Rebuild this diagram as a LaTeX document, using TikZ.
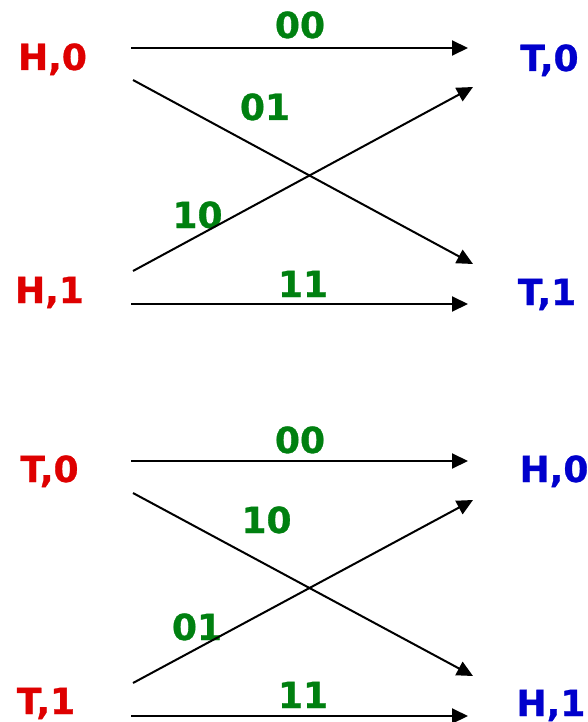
\documentclass[tikz,border=0pt]{standalone}
\usepackage{fontspec}
\setmainfont{DejaVu Sans}[BoldFeatures={FakeBold=0.8}]
\usetikzlibrary{arrows.meta}
\definecolor{sred}{RGB}{222,0,0}
\definecolor{sblue}{RGB}{0,0,204}
\definecolor{lgreen}{RGB}{0,128,16}
\tikzset{
  lbl/.style={anchor=base,inner sep=0pt,font=\bfseries\fontsize{36}{43}\selectfont},
  src/.style={lbl,text=sred},
  dst/.style={lbl,text=sblue},
  bit/.style={lbl,text=lgreen},
  arr/.style={line width=2pt,-{Triangle[length=16pt,width=15pt]}}
}
\begin{document}
\begin{tikzpicture}[x=1pt,y=-1pt]
\useasboundingbox (0,0) rectangle (587,722);
% ---- top diagram ----
\node[src] (h0) at (52.5,70) {H,0};
\node[src] (h1) at (49.5,303) {H,1};
\node[dst] (t0) at (549.5,71) {T,0};
\node[dst] (t1) at (547,305) {T,1};
\node[bit] (l00a) at (300,38) {00};
\node[bit] (l01a) at (265,120) {01};
\node[bit] (l10a) at (197.5,228) {10};
\node[bit] (l11a) at (303,297) {11};
\coordinate (a1s) at (131,48);  \coordinate (a1e) at (468,48);
\coordinate (a2s) at (133,80);  \coordinate (a2e) at (473,264);
\coordinate (a3s) at (133,271); \coordinate (a3e) at (473,87);
\coordinate (a4s) at (131,304); \coordinate (a4e) at (468,304);
\draw[arr] (a1s) -- (a1e);
\draw[arr] (a2s) -- (a2e);
\draw[arr] (a3s) -- (a3e);
\draw[arr] (a4s) -- (a4e);
% ---- bottom diagram ----
\node[src] (bt0) at (49.5,482) {T,0};
\node[src] (bt1) at (46,714) {T,1};
\node[dst] (bh0) at (554,482) {H,0};
\node[dst] (bh1) at (551,716) {H,1};
\node[bit] (l00b) at (300,453) {00};
\node[bit] (l10b) at (266.5,533) {10};
\node[bit] (l01b) at (197,640) {01};
\node[bit] (l11b) at (303,708) {11};
\coordinate (b1s) at (131,461);  \coordinate (b1e) at (468,461);
\coordinate (b2s) at (133,493);  \coordinate (b2e) at (473,676);
\coordinate (b3s) at (133,683);  \coordinate (b3e) at (473,500);
\coordinate (b4s) at (131,716);  \coordinate (b4e) at (468,716);
\draw[arr] (b1s) -- (b1e);
\draw[arr] (b2s) -- (b2e);
\draw[arr] (b3s) -- (b3e);
\draw[arr] (b4s) -- (b4e);
\end{tikzpicture}
\end{document}
